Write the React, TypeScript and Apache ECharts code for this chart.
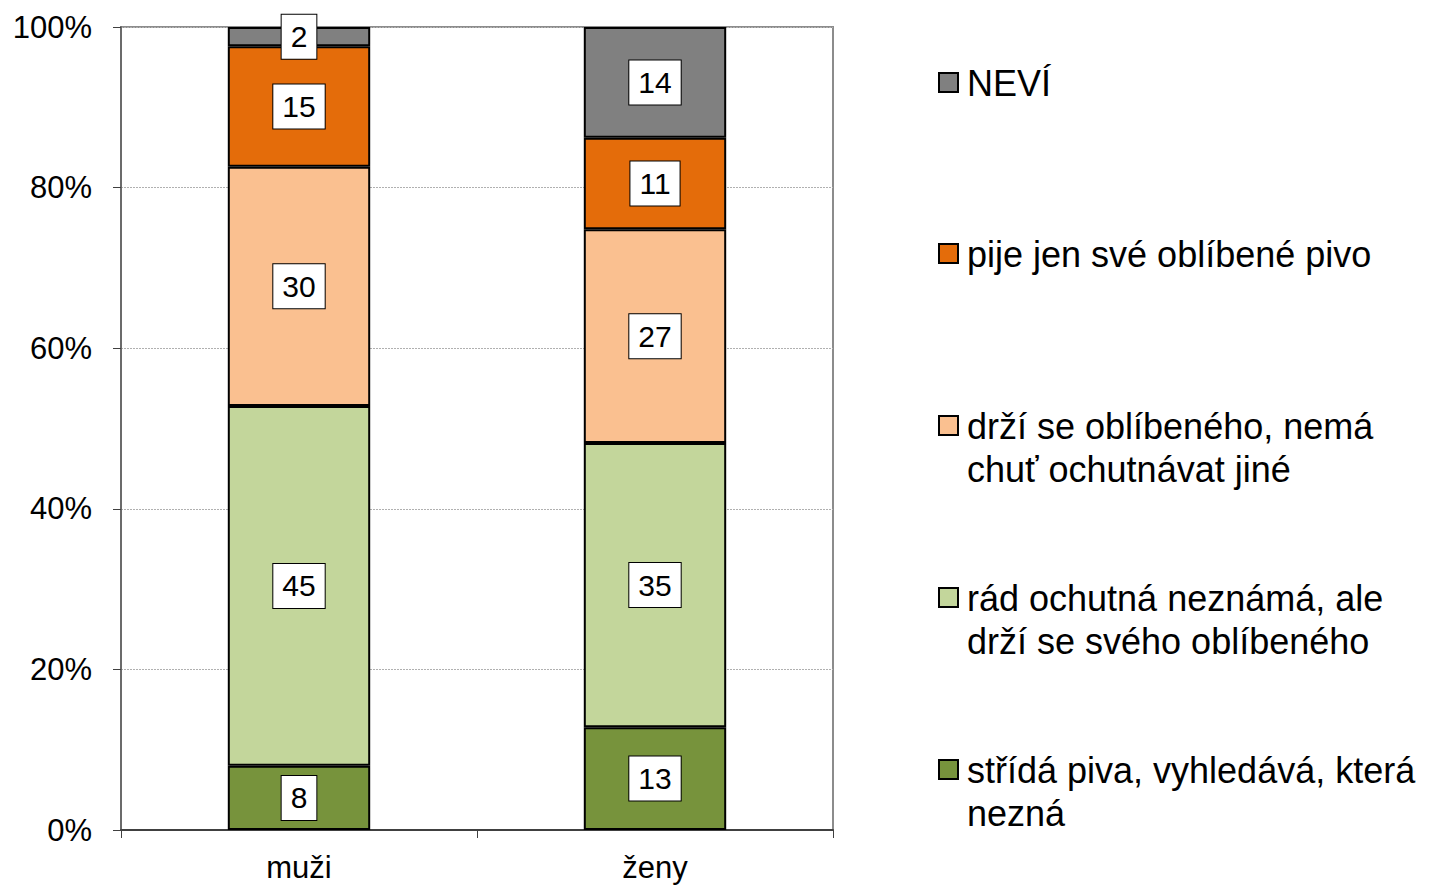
import React, { useEffect, useRef } from "react";
import * as echarts from "echarts";

const categories = ["muži", "ženy"];
const seriesNames = [
  "střídá piva, vyhledává, která nezná",
  "rád ochutná neznámá, ale drží se svého oblíbeného",
  "drží se oblíbeného, nemá chuť ochutnávat jiné",
  "pije jen své oblíbené pivo",
  "NEVÍ",
];
const legendLines = [
  ["střídá piva, vyhledává, která", "nezná"],
  ["rád ochutná neznámá, ale", "drží se svého oblíbeného"],
  ["drží se oblíbeného, nemá", "chuť ochutnávat jiné"],
  ["pije jen své oblíbené pivo"],
  ["NEVÍ"],
];
const stridaValues = [8.0, 12.8];
const radValues = [44.8, 35.4];
const drziValues = [29.8, 26.6];
const pijeValues = [15.0, 11.4];
const neviValues = [2.4, 13.8];
const seriesValues = [stridaValues, radValues, drziValues, pijeValues, neviValues];
const colors = ["#77933C", "#C3D69B", "#FAC090", "#E46C0A", "#808080"];
const yTicks = [0, 20, 40, 60, 80, 100];

const FONT = "'Liberation Sans', Arial, sans-serif";

export default function App() {
  const ref = useRef<HTMLDivElement>(null);
  useEffect(() => {
    if (!ref.current) return;
    const chart = echarts.init(ref.current, null, { renderer: "svg" });

    const legendTopCenters = [770, 598, 426, 254, 83];
    const lineH = 43;
    const legendGraphics: any[] = [];
    seriesNames.forEach((name, i) => {
      const cy = legendTopCenters[i];
      legendGraphics.push({
        type: "rect",
        shape: { x: 939, y: cy - 10, width: 19, height: 19 },
        style: { fill: colors[i], stroke: "#000", lineWidth: 2 },
      });
      legendGraphics.push({
        type: "text",
        x: 967,
        y: cy - lineH / 2,
        style: {
          text: legendLines[i].join("\n"),
          fontSize: 36,
          fontFamily: FONT,
          lineHeight: lineH,
          fill: "#000",
          align: "left",
          verticalAlign: "top",
        },
      });
    });

    chart.setOption({
      animation: false,
      textStyle: { fontFamily: FONT },
      grid: {
        left: 121,
        right: 602,
        top: 27,
        bottom: 55,
        show: true,
        borderColor: "#8c8c8c",
        borderWidth: 2,
        backgroundColor: "transparent",
      },
      xAxis: {
        type: "category",
        data: categories,
        axisLine: { lineStyle: { color: "#404040", width: 2 } },
        axisTick: { show: true, length: 8, lineStyle: { color: "#404040", width: 1 } },
        axisLabel: { fontSize: 31, color: "#000", margin: 22, fontFamily: FONT },
      },
      yAxis: {
        type: "value",
        min: 0,
        max: 100,
        interval: 20,
        axisLine: { show: true, lineStyle: { color: "#6b6b6b", width: 2 } },
        axisTick: { show: true, length: 8, lineStyle: { color: "#404040", width: 1 } },
        axisLabel: {
          fontSize: 31,
          color: "#000",
          margin: 29,
          fontFamily: FONT,
          formatter: (v: number) => (yTicks.includes(v) ? v + "%" : ""),
        },
        splitLine: { show: true, lineStyle: { color: "#b0b0b0", type: [2, 1], width: 1 } },
      },
      series: seriesNames.map((name, i) => ({
        name,
        type: "bar",
        stack: "total",
        barWidth: "40%",
        data: seriesValues[i],
        itemStyle: { color: colors[i], borderColor: "#000", borderWidth: 2 },
        label: {
          show: true,
          position: "inside",
          fontSize: 30,
          fontFamily: FONT,
          color: "#000",
          backgroundColor: "#fff",
          borderColor: "#000",
          borderWidth: 1,
          padding: [6, 9, 4, 9],
          lineHeight: 34,
          formatter: (p: any) => String(Math.round(p.value)),
        },
      })),
      graphic: legendGraphics,
    });
    return () => chart.dispose();
  }, []);
  return (
    <div
      ref={ref}
      style={{ position: "fixed", left: 0, top: 0, width: 1435, height: 885, background: "#fff" }}
    />
  );
}
